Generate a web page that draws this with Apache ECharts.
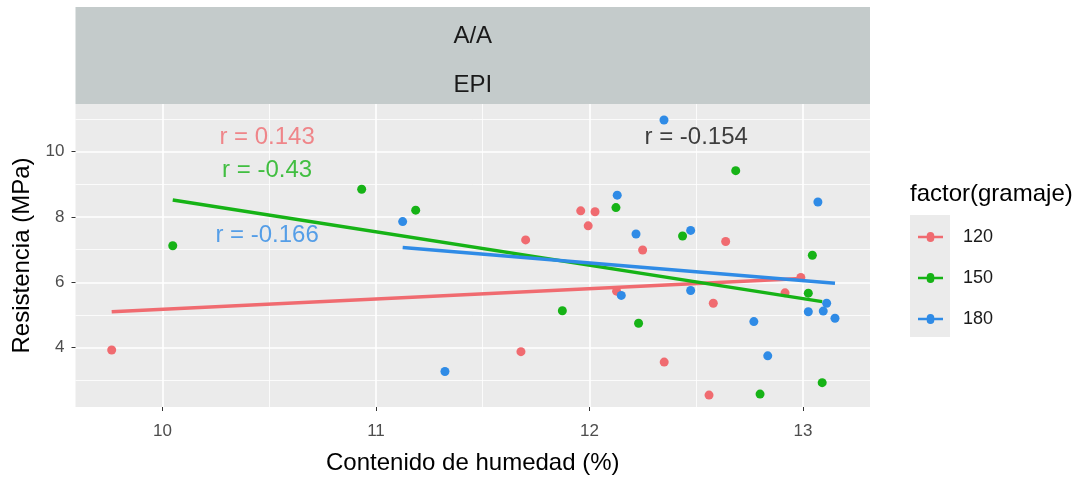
<!DOCTYPE html>
<html>
<head>
<meta charset="utf-8">
<script src="https://cdn.jsdelivr.net/npm/echarts@6/dist/echarts.min.js"></script>
<style>
  html, body { margin: 0; padding: 0; background: #ffffff; }
  #chart { width: 1088px; height: 477px; }
</style>
</head>
<body>
<div id="chart"></div>
<script>
// Strip labels (facet) and legend
const stripLabels = ['A/A', 'EPI'];
const legendTitle = 'factor(gramaje)';
const gramajes = ['120', '150', '180'];
const colors = ['#f06b70', '#16b316', '#2f8be6'];

// Axis ticks
const xTicks = [10, 11, 12, 13];
const xMinor = [10.5, 11.5, 12.5];
const yTicks = [4, 6, 8, 10];
const yMinor = [3, 5, 7, 9, 11];

// Moisture content (%) and strength (MPa) per grammage
const hum120 = [9.762, 11.679, 11.701, 11.959, 12.026, 11.994, 12.127, 12.249, 12.350, 12.560, 12.580, 12.638, 12.916, 12.990];
const res120 = [3.93, 3.88, 7.30, 8.19, 8.16, 7.73, 5.73, 6.99, 3.56, 2.55, 5.36, 7.25, 5.68, 6.15];

const hum150 = [10.048, 10.933, 11.186, 11.873, 12.124, 12.230, 12.436, 12.685, 12.799, 13.025, 13.044, 13.090];
const res150 = [7.12, 8.85, 8.21, 5.13, 8.29, 4.75, 7.42, 9.42, 2.58, 5.67, 6.83, 2.93];

const hum180 = [11.125, 11.323, 12.130, 12.149, 12.218, 12.349, 12.474, 12.474, 12.770, 12.835, 13.025, 13.070, 13.095, 13.111, 13.150];
const res180 = [7.86, 3.27, 8.67, 5.60, 7.48, 10.97, 7.59, 5.75, 4.80, 3.75, 5.10, 8.46, 5.12, 5.36, 4.90];

// Linear fit lines: [x start, x end] and [y start, y end]
const fitX120 = [9.762, 12.990], fitY120 = [5.10, 6.12];
const fitX150 = [10.048, 13.090], fitY150 = [8.52, 5.41];
const fitX180 = [11.125, 13.150], fitY180 = [7.07, 5.97];

// Correlation annotations
const rTexts = ['r = 0.143', 'r = -0.43', 'r = -0.166', 'r = -0.154'];
const rX = [10.49, 10.49, 10.49, 12.50];
const rY = [10.44, 9.44, 7.44, 10.44];
const rColors = ['#f06b70', '#16b316', '#2f8be6', '#111111'];

const zip = (xs, ys) => xs.map((x, i) => [x, ys[i]]);
const groups = [
  [hum120, res120, fitX120, fitY120],
  [hum150, res150, fitX150, fitY150],
  [hum180, res180, fitX180, fitY180]
];

const FONT = '"Liberation Sans", Arial, sans-serif';
const GRID = { left: 75.5, right: 218, top: 104, bottom: 70 };
const X_MIN = 9.5925, X_MAX = 13.314, Y_MIN = 2.185, Y_MAX = 11.46;

const series = [];
groups.forEach((g, i) => {
  series.push({
    name: gramajes[i], type: 'scatter', xAxisIndex: 0, yAxisIndex: 0,
    data: zip(g[0], g[1]), symbolSize: 9,
    itemStyle: { color: colors[i], opacity: 1 }, z: 3, silent: true
  });
});
groups.forEach((g, i) => {
  series.push({
    name: gramajes[i], type: 'line', xAxisIndex: 0, yAxisIndex: 0,
    data: zip(g[2], g[3]), showSymbol: false, symbol: 'none',
    lineStyle: { color: colors[i], width: 3.5 }, z: 4, silent: true
  });
});
series.push({
  type: 'scatter', xAxisIndex: 0, yAxisIndex: 0, symbolSize: 0, z: 6, silent: true,
  data: rTexts.map((t, i) => ({
    value: [rX[i], rY[i]],
    label: { show: true, position: 'inside', formatter: t, color: rColors[i],
             fontSize: 24, fontFamily: FONT }
  }))
});

const gridW = 1088 - GRID.left - GRID.right;
const option = {
  backgroundColor: '#ffffff',
  animation: false,
  grid: Object.assign({ show: true, backgroundColor: '#ebebeb', borderWidth: 0, outerBoundsMode: 'none', containLabel: false }, GRID),
  xAxis: [
    {
      type: 'value', min: X_MIN, max: X_MAX, position: 'bottom',
      name: 'Contenido de humedad (%)', nameLocation: 'middle', nameGap: 44,
      nameTextStyle: { color: '#000000', fontSize: 24, fontFamily: FONT },
      axisLine: { show: false },
      axisTick: { show: true, customValues: xTicks, length: 4, lineStyle: { color: '#333333', width: 1 } },
      axisLabel: { customValues: xTicks, color: '#4d4d4d', fontSize: 17, fontFamily: FONT, margin: 16 },
      splitLine: { show: true, lineStyle: { color: '#ffffff', width: 1.6 } }
    },
    {
      type: 'value', min: X_MIN, max: X_MAX, position: 'top',
      axisLine: { show: false },
      axisTick: { show: false, customValues: xMinor },
      axisLabel: { show: false },
      splitLine: { show: true, lineStyle: { color: '#ffffff', width: 0.8 } }
    }
  ],
  yAxis: [
    {
      type: 'value', min: Y_MIN, max: Y_MAX, position: 'left',
      name: 'Resistencia (MPa)', nameLocation: 'middle', nameGap: 38,
      nameTextStyle: { color: '#000000', fontSize: 24, fontFamily: FONT },
      axisLine: { show: false },
      axisTick: { show: true, customValues: yTicks, length: 4, lineStyle: { color: '#333333', width: 1 } },
      axisLabel: { customValues: yTicks, color: '#4d4d4d', fontSize: 17, fontFamily: FONT, margin: 11 },
      splitLine: { show: true, lineStyle: { color: '#ffffff', width: 1.6 } }
    },
    {
      type: 'value', min: Y_MIN, max: Y_MAX, position: 'right',
      axisLine: { show: false },
      axisTick: { show: false, customValues: yMinor },
      axisLabel: { show: false },
      splitLine: { show: true, lineStyle: { color: '#ffffff', width: 0.8 } }
    }
  ],
  legend: {
    orient: 'vertical', left: 913, top: 223,
    itemWidth: 33, itemHeight: 10, itemGap: 23,
    icon: 'path://M0,3.4 L11.5,3.4 A5,5 0 0 1 21.5,3.4 L33,3.4 L33,6.6 L21.5,6.6 A5,5 0 0 1 11.5,6.6 L0,6.6 Z',
    data: gramajes,
    textStyle: { color: '#1a1a1a', fontSize: 18, fontFamily: FONT, padding: [0, 0, 0, 11] },
    selectedMode: false
  },
  graphic: [
    { type: 'rect', left: GRID.left, top: 7, z: -10,
      shape: { width: gridW, height: 97 }, style: { fill: '#c4cbcb' } },
    { type: 'text', x: GRID.left + gridW / 2, y: 36, z: 10,
      style: { text: stripLabels[0], fill: '#1a1a1a', fontSize: 24, fontFamily: FONT, align: 'center', verticalAlign: 'middle' } },
    { type: 'text', x: GRID.left + gridW / 2, y: 85, z: 10,
      style: { text: stripLabels[1], fill: '#1a1a1a', fontSize: 24, fontFamily: FONT, align: 'center', verticalAlign: 'middle' } },
    { type: 'rect', left: 910, top: 215, z: -10,
      shape: { width: 40, height: 122 }, style: { fill: '#ebebeb' } },
    { type: 'text', x: 910, y: 194, z: 10,
      style: { text: legendTitle, fill: '#000000', fontSize: 24, fontFamily: FONT, align: 'left', verticalAlign: 'middle' } }
  ],
  series: series
};

const chart = echarts.init(document.getElementById('chart'), null, { renderer: 'canvas' });
chart.setOption(option);
</script>
</body>
</html>
